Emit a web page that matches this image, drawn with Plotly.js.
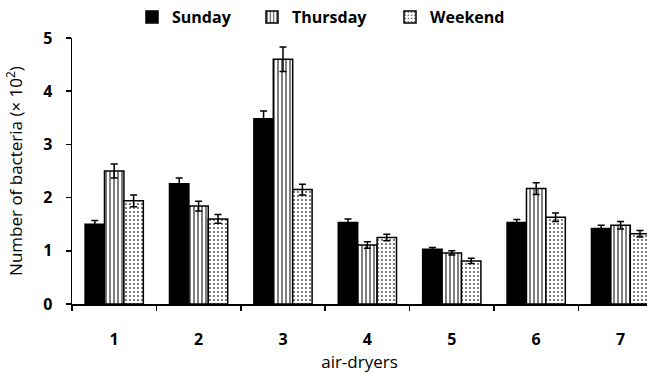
<!DOCTYPE html>
<html>
<head>
<meta charset="utf-8">
<script src="https://cdn.plot.ly/plotly-3.0.1.min.js"></script>
<style>html,body{margin:0;padding:0;background:#fff;}#chart{width:647px;height:373px;}</style>
</head>
<body>
<div id="chart"></div>
<script>
var categories = ['1', '2', '3', '4', '5', '6', '7'];
var sunday = [1.50, 2.26, 3.48, 1.53, 1.03, 1.53, 1.42];
var sundayErr = [0.07, 0.11, 0.15, 0.07, 0.03, 0.06, 0.06];
var thursday = [2.50, 1.84, 4.60, 1.11, 0.96, 2.17, 1.48];
var thursdayErr = [0.13, 0.09, 0.23, 0.06, 0.04, 0.11, 0.07];
var weekend = [1.94, 1.60, 2.15, 1.25, 0.81, 1.63, 1.32];
var weekendErr = [0.11, 0.08, 0.10, 0.06, 0.05, 0.08, 0.06];

var FONT = '"Open Sans", "DejaVu Sans", sans-serif';
function errBar(arr) {
  return {type: 'data', array: arr, visible: true, color: '#000', thickness: 1.5, width: 3.5};
}
var traces = [
  {type: 'bar', name: 'Sunday', x: categories, y: sunday, error_y: errBar(sundayErr), legendwidth: 75,
   marker: {color: '#000', line: {color: '#000', width: 1.5}}},
  {type: 'bar', name: 'Thursday', x: categories, y: thursday, error_y: errBar(thursdayErr), legendwidth: 93,
   marker: {color: '#fff', line: {color: '#000', width: 1.5},
            pattern: {shape: '|', fgcolor: '#000', bgcolor: '#fff', size: 4, solidity: 0.25}}},
  {type: 'bar', name: 'Weekend', x: categories, y: weekend, error_y: errBar(weekendErr), legendwidth: 80,
   marker: {color: '#fff', line: {color: '#000', width: 1.5},
            pattern: {shape: '.', fgcolor: '#555', bgcolor: '#fff', size: 4, solidity: 0.2}}}
];
var layout = {
  width: 647, height: 373,
  margin: {l: 72, r: 0, t: 38, b: 69, pad: 0},
  paper_bgcolor: '#fff', plot_bgcolor: '#fff',
  font: {family: FONT, color: '#000'},
  barmode: 'group', bargap: 0.31, bargroupgap: 0,
  showlegend: true,
  legend: {orientation: 'h', xref: 'container', yref: 'container', x: 132/647, xanchor: 'left',
           y: 1, yanchor: 'top', font: {family: FONT, size: 16, weight: 'bold', color: '#000'},
           bgcolor: 'rgba(0,0,0,0)', traceorder: 'normal'},
  xaxis: {type: 'category', range: [-0.5, 6.313], showline: true, linecolor: '#000', linewidth: 1.5,
          ticks: 'outside', tickson: 'boundaries', ticklen: 5, tickwidth: 1.5, tickcolor: '#000',
          showgrid: false, zeroline: false, ticklabelstandoff: 20,
          tickfont: {family: FONT, size: 16, weight: 'bold'},
          title: {text: 'air-dryers', font: {family: FONT, size: 17}, standoff: 4}},
  yaxis: {range: [0, 5], dtick: 1, showline: true, linecolor: '#000', linewidth: 1.5,
          ticks: 'outside', ticklen: 5, tickwidth: 1.5, tickcolor: '#000',
          showgrid: false, zeroline: false, ticklabelstandoff: 10,
          tickfont: {family: FONT, size: 16, weight: 'bold'},
          title: {text: 'Number of bacteria (× 10<sup>2</sup>)', font: {family: FONT, size: 17}, standoff: 16}}
};
Plotly.newPlot('chart', traces, layout, {displayModeBar: false, staticPlot: true});
</script>
</body>
</html>
